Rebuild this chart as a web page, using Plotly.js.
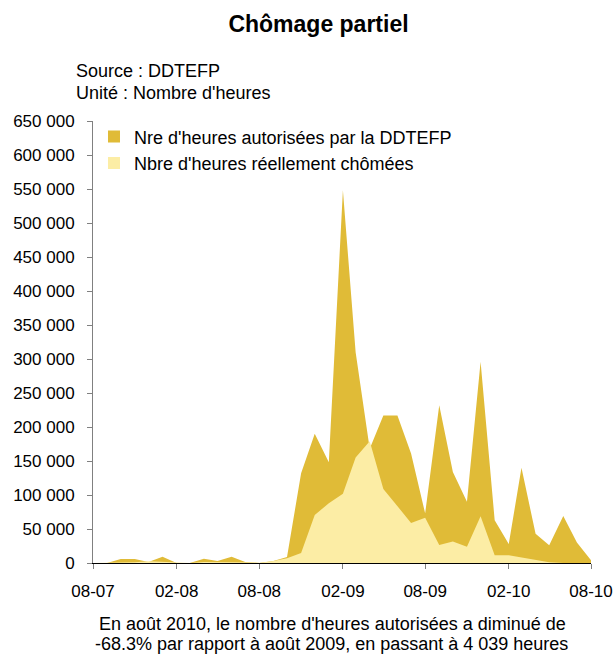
<!DOCTYPE html>
<html>
<head>
<meta charset="utf-8">
<script src="https://cdn.plot.ly/plotly-3.0.1.min.js"></script>
<style>
html,body{margin:0;padding:0;background:#fff;}
#chart{width:613px;height:656px;}
</style>
</head>
<body>
<div id="chart"></div>
<script>
// Months from Aug 2007 to Aug 2010
const months = [
  '2007-08-01','2007-09-01','2007-10-01','2007-11-01','2007-12-01',
  '2008-01-01','2008-02-01','2008-03-01','2008-04-01','2008-05-01','2008-06-01','2008-07-01',
  '2008-08-01','2008-09-01','2008-10-01','2008-11-01','2008-12-01',
  '2009-01-01','2009-02-01','2009-03-01','2009-04-01','2009-05-01','2009-06-01','2009-07-01',
  '2009-08-01','2009-09-01','2009-10-01','2009-11-01','2009-12-01',
  '2010-01-01','2010-02-01','2010-03-01','2010-04-01','2010-05-01','2010-06-01','2010-07-01',
  '2010-08-01'
];
// Nre d'heures autorisées par la DDTEFP
const heuresAutorisees = [
  0, 0, 5900, 5900, 1500,
  9300, 0, 0, 6400, 3000, 9300, 1500,
  0, 3000, 8800, 132000, 190000,
  148000, 548000, 310000, 168000, 217000, 217000, 161000,
  73000, 232000, 134000, 90000, 296000,
  63000, 28000, 140000, 43000, 26000, 69000, 30000,
  4039
];
// Nbre d'heures réellement chômées
const heuresChomees = [
  0, 0, 1000, 1000, 2500,
  1500, 0, 0, 1500, 1500, 1500, 1500,
  500, 3000, 6900, 14700, 70500,
  88000, 102000, 155000, 179000, 109000, 83000, 59000,
  66700, 26500, 31500, 24000, 68600,
  11300, 11300, 8000, 3500, 1000, 0, 0,
  0
];
const seriesNames = ["Nre d'heures autorisées par la DDTEFP", "Nbre d'heures réellement chômées"];
const xTickVals = ['2007-08-01','2008-02-01','2008-08-01','2009-02-01','2009-08-01','2010-02-01','2010-08-01'];
const xTickText = ['08-07','02-08','08-08','02-09','08-09','02-10','08-10'];
const yTickVals = [0,50000,100000,150000,200000,250000,300000,350000,400000,450000,500000,550000,600000,650000];
const yTickText = ['0','50 000','100 000','150 000','200 000','250 000','300 000','350 000','400 000','450 000','500 000','550 000','600 000','650 000'];

const colorDark = '#E0BB37';
const colorLight = '#FCEDA5';
const FONT = '"Liberation Sans", Arial, sans-serif';

const traces = [
  {x: months, y: heuresAutorisees, type:'scatter', mode:'lines', fill:'tozeroy',
   line:{width:0, color:colorDark}, fillcolor:colorDark, showlegend:false, hoverinfo:'skip'},
  {x: months, y: heuresChomees, type:'scatter', mode:'lines', fill:'tozeroy',
   line:{width:0, color:colorLight}, fillcolor:colorLight, showlegend:false, hoverinfo:'skip'},
  {x:[null], y:[null], type:'scatter', mode:'markers', name: seriesNames[0], legendgroup:'a',
   marker:{symbol:'square', size:12, color:colorDark}},
  {x:[null], y:[null], type:'scatter', mode:'markers', name: seriesNames[1], legendgroup:'b',
   marker:{symbol:'square', size:12, color:colorLight}}
];

const layout = {
  width:613, height:656,
  margin:{l:93, r:22, t:121, b:93, pad:0},
  paper_bgcolor:'#fff', plot_bgcolor:'#fff',
  font:{family:FONT, size:16, color:'#000'},
  title:{text:'<b>Chômage partiel</b>', font:{family:FONT, size:23, color:'#000'},
         x:0.5196, xref:'container', xanchor:'center', y:0.9634, yref:'container', yanchor:'middle'},
  xaxis:{type:'date', range:['2007-08-01','2010-08-01'], tickmode:'array', tickvals:xTickVals, ticktext:xTickText,
         showgrid:false, zeroline:false, showline:true, linecolor:'#000', linewidth:1,
         ticks:'outside', ticklen:5, tickcolor:'#808080', tickwidth:1,
         tickfont:{family:FONT, size:17, color:'#000'}, ticklabelstandoff:8, fixedrange:true},
  yaxis:{range:[0,650000], tickmode:'array', tickvals:yTickVals, ticktext:yTickText,
         showgrid:false, zeroline:false, showline:true, linecolor:'#808080', linewidth:1,
         ticks:'outside', ticklen:5, tickcolor:'#808080', tickwidth:1,
         tickfont:{family:FONT, size:17, color:'#000'}, ticklabelstandoff:9, fixedrange:true},
  legend:{x:0.002, xanchor:'left', y:1.006, yanchor:'top', bgcolor:'rgba(0,0,0,0)',
          font:{family:FONT, size:18, color:'#000'}, traceorder:'grouped', tracegroupgap:0,
          itemwidth:30},
  annotations:[
    {text:'Source : DDTEFP', xref:'paper', yref:'paper', x:-0.038, y:1.1138, xanchor:'left', yanchor:'middle',
     showarrow:false, font:{family:FONT, size:18, color:'#000'}},
    {text:"Unité : Nombre d'heures", xref:'paper', yref:'paper', x:-0.038, y:1.0633, xanchor:'left', yanchor:'middle',
     showarrow:false, font:{family:FONT, size:18, color:'#000'}},
    {text:"En août 2010, le nombre d'heures autorisées a diminué de", xref:'paper', yref:'paper', x:0.48, y:-0.138,
     xanchor:'center', yanchor:'middle', showarrow:false, font:{family:FONT, size:18, color:'#000'}},
    {text:"-68.3% par rapport à août 2009, en passant à 4 039 heures", xref:'paper', yref:'paper', x:0.478, y:-0.1833,
     xanchor:'center', yanchor:'middle', showarrow:false, font:{family:FONT, size:18, color:'#000'}}
  ]
};

Plotly.newPlot('chart', traces, layout, {displayModeBar:false, staticPlot:true});
</script>
</body>
</html>
